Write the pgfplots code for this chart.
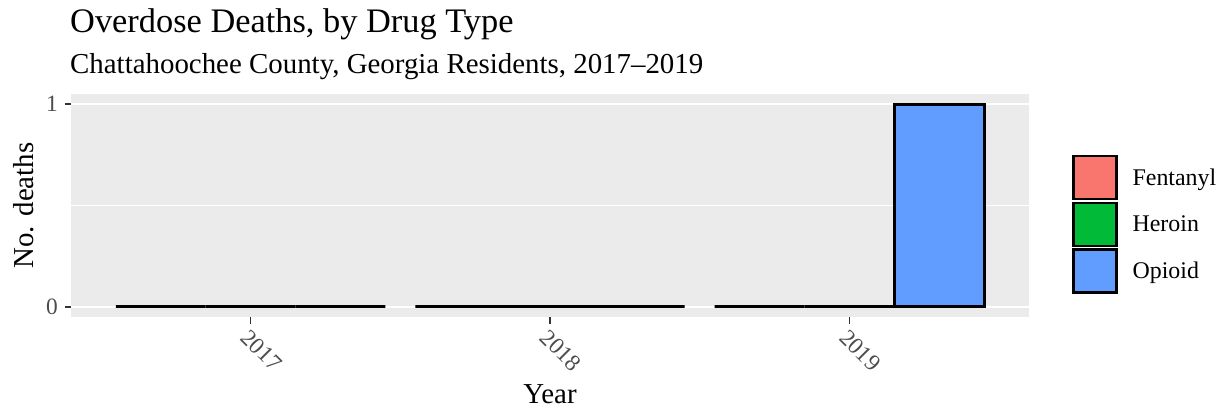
\documentclass[border=0pt]{standalone}
\usepackage{fontspec}
\setmainfont{Liberation Serif}
\usepackage{pgfplots}
\pgfplotsset{compat=1.18}
\definecolor{panelbg}{HTML}{EBEBEB}
\definecolor{tickgrey}{HTML}{4D4D4D}
\definecolor{tickline}{HTML}{333333}
\definecolor{cFent}{HTML}{F8766D}
\definecolor{cHer}{HTML}{00BA38}
\definecolor{cOpi}{HTML}{619CFF}
\newcommand{\tickfont}{\fontsize{23.5}{27}\selectfont}
\newcommand{\legfont}{\fontsize{24}{28}\selectfont}
\newcommand{\labfont}{\fontsize{29}{34}\selectfont}
\begin{document}
\begin{tikzpicture}[x=1bp,y=1bp]
\path[use as bounding box] (0,0) rectangle (1225,414);
\node[anchor=base west, inner sep=0pt] at (70,382) {\fontsize{34.5}{40}\selectfont Overdose Deaths, by Drug Type};
\node[anchor=base west, inner sep=0pt] at (70,341) {\labfont Chattahoochee County, Georgia Residents, 2017--2019};
\begin{axis}[
  at={(71bp,97bp)}, anchor=south west,
  scale only axis, width=958bp, height=223bp,
  xmin=-0.6, xmax=2.6, ymin=-0.05, ymax=1.05,
  axis background/.style={fill=panelbg},
  axis line style={draw=none},
  tick pos=left, tick align=outside,
  major tick length=6.5bp,
  tick style={draw=tickline, line width=1.5bp},
  xtick={0,1,2}, xticklabels={2017,2018,2019},
  ytick={0,1}, yticklabels={0,1},
  minor ytick={0.5},
  minor tick length=0pt,
  ymajorgrids, yminorgrids,
  major grid style={white, line width=1.4bp},
  minor grid style={white, line width=0.7bp},
  /pgf/number format/assume math mode=true,
  xticklabel style={font=\tickfont, text=tickgrey, rotate=-45, anchor=north west, inner sep=1bp},
  xticklabel shift=3bp,
  yticklabel style={font=\tickfont, text=tickgrey, inner sep=6.5bp},
  xlabel={Year}, ylabel={No. deaths},
  every axis x label/.style={at={([yshift=-86bp]axis description cs:0.5,0)}, anchor=base, font=\labfont},
  every axis y label/.style={at={([xshift=-38bp]axis description cs:0,0.5)}, anchor=base, rotate=90, font=\labfont},
  legend style={draw=none, fill=none, at={(axis description cs:1,0.415)}, anchor=west, xshift=43bp,
    inner sep=0pt, row sep=1.3bp, column sep=15bp,
    font=\legfont, nodes={inner sep=0pt, anchor=west}},
  legend cell align=left,
  legend image code/.code={\draw[#1, line width=2.4bp] (0bp,-21.5bp) rectangle (43bp,21.5bp);},
]
\addplot[ybar, bar width=0.3, bar shift=-0.3, fill=cFent, draw=black, line width=2.8bp] coordinates {(0,0) (1,0) (2,0)};
\addlegendentry{Fentanyl}
\addplot[ybar, bar width=0.3, bar shift=0, fill=cHer, draw=black, line width=2.8bp] coordinates {(0,0) (1,0) (2,0)};
\addlegendentry{Heroin}
\addplot[ybar, bar width=0.3, bar shift=0.3, fill=cOpi, draw=black, line width=2.8bp] coordinates {(0,0) (1,0) (2,1)};
\addlegendentry{Opioid}
\end{axis}
\end{tikzpicture}
\end{document}
